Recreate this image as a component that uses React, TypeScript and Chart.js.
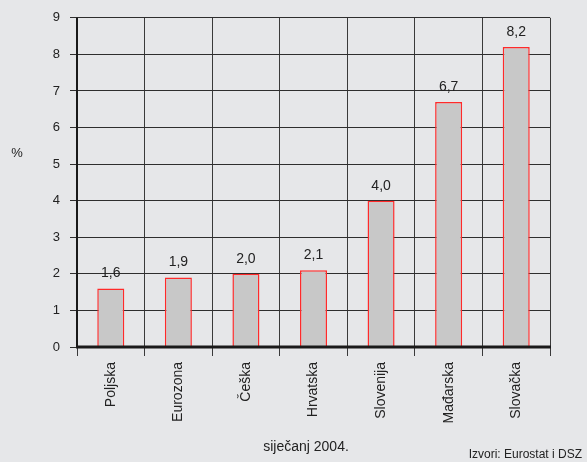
import React, { useEffect, useRef } from "react";
import { Chart, registerables } from "chart.js";

Chart.register(...registerables);

const categories = ["Poljska", "Eurozona", "Češka", "Hrvatska", "Slovenija", "Mađarska", "Slovačka"];
const values = [1.6, 1.9, 2.0, 2.1, 4.0, 6.7, 8.2];
const valueLabels = ["1,6", "1,9", "2,0", "2,1", "4,0", "6,7", "8,2"];
const yTicks = [0, 1, 2, 3, 4, 5, 6, 7, 8, 9];
const yTitle = "%";
const xTitle = "siječanj 2004.";
const sourceText = "Izvori: Eurostat i DSZ";

const FONT = "'Liberation Sans', Arial, sans-serif";
const BG = "#e6e7e9";
const TEXT = "#222222";

export default function App() {
  const ref = useRef<HTMLCanvasElement | null>(null);

  useEffect(() => {
    document.body.style.margin = "0";
    document.body.style.background = BG;
    const canvas = ref.current;
    if (!canvas) return;

    const overlay = {
      id: "overlay",
      beforeDraw(chart: any) {
        const ctx = chart.ctx;
        ctx.save();
        ctx.fillStyle = BG;
        ctx.fillRect(0, 0, chart.width, chart.height);
        ctx.restore();
      },
      afterDatasetsDraw(chart: any) {
        const ctx = chart.ctx;
        const meta = chart.getDatasetMeta(0);
        ctx.save();
        ctx.fillStyle = TEXT;
        ctx.font = `14px ${FONT}`;
        ctx.textAlign = "center";
        ctx.textBaseline = "middle";
        meta.data.forEach((bar: any, i: number) => {
          ctx.fillText(valueLabels[i], bar.x, bar.y - 15);
        });
        // axes emphasis
        const a = chart.chartArea;
        ctx.strokeStyle = "#1a1a1a";
        ctx.lineWidth = 3;
        ctx.beginPath();
        ctx.moveTo(a.left - 1, a.bottom);
        ctx.lineTo(a.right + 1, a.bottom);
        ctx.stroke();
        ctx.lineWidth = 2;
        ctx.beginPath();
        ctx.moveTo(a.left, a.top);
        ctx.lineTo(a.left, a.bottom);
        ctx.stroke();
        // titles
        ctx.font = `13px ${FONT}`;
        ctx.textAlign = "center";
        ctx.fillText(yTitle, 17, 153);
        ctx.font = `14px ${FONT}`;
        ctx.fillText(xTitle, 306, 447);
        ctx.font = `12px ${FONT}`;
        ctx.textAlign = "right";
        ctx.fillText(sourceText, 582, 455);
        ctx.restore();
      },
    };

    const chart = new Chart(canvas, {
      type: "bar",
      data: {
        labels: categories,
        datasets: [
          {
            data: values,
            backgroundColor: "#c8c8c8",
            borderColor: "#ff2a2a",
            borderWidth: 1.5,
            borderSkipped: "bottom",
            barPercentage: 0.4,
            categoryPercentage: 1,
          },
        ],
      },
      options: {
        animation: false,
        responsive: false,
        maintainAspectRatio: false,
        layout: { padding: { left: 0, right: 37, top: 17, bottom: 0 } },
        plugins: { legend: { display: false }, tooltip: { enabled: false } },
        scales: {
          x: {
            afterFit: (s: any) => {
              s.height = 115;
            },
            grid: {
              offset: true,
              color: "#3a3a3a",
              lineWidth: 1,
              tickLength: 9,
            },
            border: { display: false },
            ticks: {
              minRotation: 90,
              maxRotation: 90,
              padding: 6,
              color: TEXT,
              font: { family: FONT, size: 14 },
            },
          },
          y: {
            min: 0,
            max: 9,
            afterFit: (s: any) => {
              s.width = 77;
            },
            afterBuildTicks: (s: any) => {
              s.ticks = yTicks.map((v) => ({ value: v }));
            },
            grid: { color: "#2e2e2e", lineWidth: 1, tickLength: 7 },
            border: { display: false },
            ticks: {
              stepSize: 1,
              padding: 10,
              color: TEXT,
              font: { family: FONT, size: 13 },
            },
          },
        },
      },
      plugins: [overlay],
    });

    return () => chart.destroy();
  }, []);

  return <canvas ref={ref} width={587} height={462} style={{ display: "block" }} />;
}
